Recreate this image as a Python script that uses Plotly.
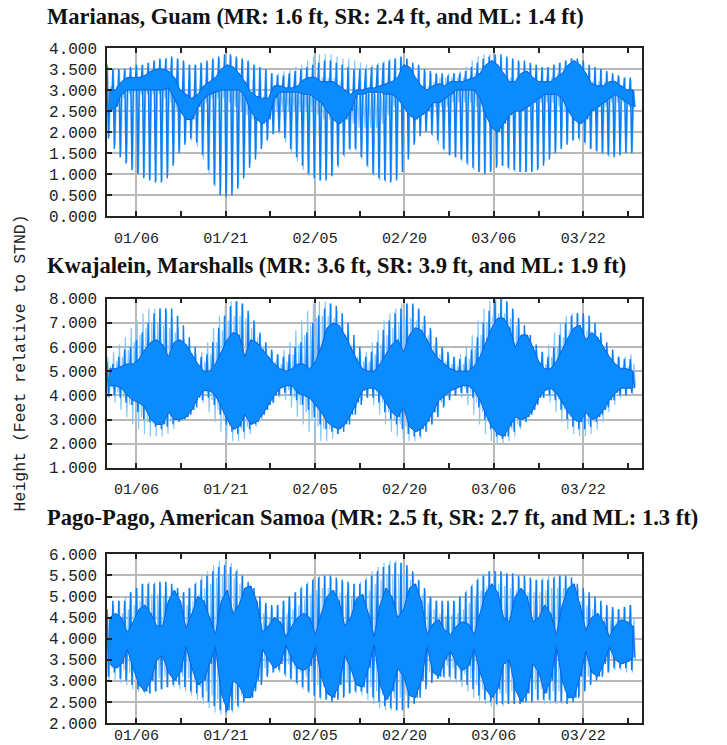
import plotly.graph_objects as go

# ---------------- data (feet, one entry per day from 01/01) ----------------
DAYS = list(range(90))
TICK_DAYS = [5.0, 20.2, 35.4, 50.6, 65.8, 81.0]
TICK_LABELS = ["01/06", "01/21", "02/05", "02/20", "03/06", "03/22"]
MINOR_DAYS = [12.6, 27.8, 43.0, 58.2, 73.4, 88.6]

TITLES = [
    "Marianas, Guam (MR: 1.6 ft, SR: 2.4 ft, and ML: 1.4 ft)",
    "Kwajalein, Marshalls (MR: 3.6 ft, SR: 3.9 ft, and ML: 1.9 ft)",
    "Pago-Pago, American Samoa (MR: 2.5 ft, SR: 2.7 ft, and ML: 1.3 ft)",
]
Y_LABEL = "Height (Feet relative to STND)"

GUAM_Y_TICKS = [0, 0.5, 1, 1.5, 2, 2.5, 3, 3.5, 4]
KWAJ_Y_TICKS = [1, 2, 3, 4, 5, 6, 7, 8]
PAGO_Y_TICKS = [2, 2.5, 3, 3.5, 4, 4.5, 5, 5.5, 6]

# Guam - dark series: higher high, lower low, lower high, higher low
GUAM_D_HH = [3.6,3.5,3.5,3.5,3.55,3.6,3.6,3.65,3.7,3.75,
             3.75,3.8,3.75,3.7,3.6,3.6,3.65,3.7,3.75,3.8,
             3.85,3.85,3.8,3.75,3.7,3.6,3.55,3.5,3.4,3.35,
             3.35,3.4,3.45,3.5,3.55,3.6,3.65,3.7,3.7,3.65,
             3.6,3.55,3.5,3.5,3.5,3.55,3.6,3.65,3.7,3.75,
             3.8,3.75,3.65,3.6,3.5,3.45,3.4,3.4,3.35,3.4,
             3.4,3.45,3.55,3.65,3.75,3.8,3.85,3.85,3.8,3.75,
             3.7,3.7,3.65,3.6,3.55,3.55,3.6,3.65,3.7,3.75,
             3.75,3.7,3.6,3.55,3.5,3.45,3.4,3.35,3.3,3.3]
GUAM_D_LL = [1.85,1.6,1.4,1.25,1.1,1.0,0.9,0.85,0.8,0.8,
             0.9,1.2,1.5,1.7,1.85,1.75,1.45,1.1,0.75,0.5,
             0.45,0.5,0.65,0.9,1.15,1.35,1.6,1.8,1.95,2.0,
             1.85,1.6,1.4,1.2,1.0,0.9,0.85,0.85,0.95,1.2,
             1.45,1.6,1.6,1.4,1.2,1.0,0.9,0.85,0.8,0.85,
             1.05,1.35,1.7,1.9,2.0,1.95,1.8,1.6,1.45,1.4,
             1.35,1.25,1.15,1.05,1.0,1.05,1.15,1.2,1.15,1.1,
             1.05,1.05,1.05,1.1,1.2,1.35,1.5,1.6,1.7,1.8,
             1.85,1.75,1.6,1.55,1.5,1.45,1.4,1.45,1.5,1.5]
GUAM_D_LH = [3.0,3.0,3.2,3.3,3.3,3.3,3.35,3.45,3.5,3.5,
             3.45,3.3,3.0,2.9,2.8,2.9,3.1,3.2,3.3,3.5,
             3.6,3.55,3.4,3.2,2.95,2.85,2.8,2.8,3.1,3.1,
             3.05,3.05,3.1,3.25,3.3,3.3,3.2,3.2,3.2,3.1,
             3.0,2.9,3.0,3.0,3.05,3.05,3.1,3.15,3.2,3.3,
             3.6,3.55,3.3,3.1,3.0,3.1,3.15,3.1,3.2,3.2,
             3.2,3.25,3.3,3.4,3.6,3.7,3.6,3.4,3.2,3.2,
             3.4,3.45,3.3,3.2,3.2,3.2,3.3,3.4,3.6,3.7,
             3.6,3.4,3.15,3.1,3.1,3.2,3.2,3.1,3.0,3.0]
GUAM_D_HL = [2.5,2.6,2.9,3.0,3.0,3.0,3.0,3.0,3.0,3.0,
             3.05,2.8,2.5,2.3,2.3,2.6,2.8,2.9,2.95,3.0,
             3.0,3.0,3.0,2.85,2.5,2.3,2.2,2.3,2.8,2.95,
             2.95,2.95,2.95,2.9,2.9,2.8,2.7,2.5,2.3,2.2,
             2.3,2.5,2.9,2.9,2.95,2.95,2.95,2.9,2.9,2.8,
             2.6,2.4,2.3,2.4,2.5,2.7,2.7,2.8,2.9,3.0,
             3.0,3.0,3.0,2.8,2.4,2.1,2.0,2.2,2.4,2.5,
             2.5,2.6,2.7,2.8,2.9,2.9,2.9,2.8,2.5,2.3,
             2.2,2.3,2.5,2.6,2.7,2.8,2.9,2.8,2.7,2.6]
# Guam - light series
GUAM_L_HH = [3.55,3.5,3.45,3.5,3.5,3.55,3.6,3.65,3.7,3.7,
             3.75,3.75,3.7,3.65,3.6,3.6,3.6,3.65,3.7,3.75,
             3.8,3.8,3.75,3.7,3.65,3.6,3.5,3.45,3.4,3.4,
             3.45,3.5,3.55,3.6,3.7,3.8,3.85,3.85,3.85,3.8,
             3.75,3.75,3.7,3.65,3.6,3.6,3.65,3.7,3.75,3.75,
             3.75,3.7,3.6,3.55,3.45,3.4,3.35,3.35,3.4,3.4,
             3.45,3.55,3.7,3.8,3.85,3.85,3.8,3.8,3.75,3.7,
             3.65,3.6,3.6,3.55,3.5,3.55,3.6,3.65,3.7,3.75,
             3.7,3.65,3.55,3.5,3.45,3.4,3.35,3.3,3.3,3.25]
GUAM_L_LL = [1.9,1.7,1.5,1.3,1.15,1.0,0.95,0.9,0.85,0.85,
             0.95,1.25,1.55,1.75,1.8,1.65,1.35,1.0,0.7,0.6,
             0.55,0.6,0.75,1.0,1.25,1.45,1.7,1.85,1.95,1.95,
             1.75,1.5,1.3,1.1,0.95,0.85,0.85,0.9,1.0,1.15,
             1.4,1.55,1.55,1.35,1.15,0.95,0.85,0.8,0.85,0.95,
             1.15,1.45,1.75,1.95,2.0,1.9,1.7,1.55,1.45,1.4,
             1.3,1.2,1.1,1.05,1.05,1.1,1.2,1.2,1.1,1.05,
             1.05,1.05,1.1,1.15,1.3,1.45,1.55,1.65,1.75,1.8,
             1.8,1.7,1.6,1.5,1.45,1.4,1.45,1.5,1.5,1.5]
GUAM_L_LH = [3.1,3.1,3.1,3.2,3.2,3.2,3.3,3.4,3.4,3.4,
             3.3,3.1,2.95,2.9,2.85,2.9,3.0,3.1,3.3,3.4,
             3.4,3.3,3.2,3.0,2.9,2.85,2.85,2.9,3.0,3.0,
             3.0,3.0,3.0,3.0,3.1,3.2,3.3,3.3,3.3,3.2,
             3.0,2.9,2.9,2.9,2.9,2.9,2.9,3.0,3.1,3.3,
             3.4,3.3,3.2,3.1,3.1,3.2,3.3,3.3,3.3,3.3,
             3.3,3.3,3.4,3.5,3.5,3.4,3.3,3.3,3.3,3.3,
             3.3,3.2,3.2,3.2,3.2,3.3,3.4,3.5,3.5,3.4,
             3.3,3.2,3.2,3.2,3.2,3.2,3.1,3.1,3.0,3.0]
GUAM_L_HL = [2.6,2.7,2.8,2.9,2.9,2.9,2.9,2.9,2.9,2.8,
             2.7,2.5,2.4,2.4,2.5,2.6,2.7,2.8,2.8,2.8,
             2.7,2.6,2.5,2.4,2.3,2.3,2.3,2.4,2.5,2.5,
             2.5,2.5,2.5,2.5,2.5,2.4,2.3,2.3,2.3,2.3,
             2.3,2.2,2.1,2.1,2.1,2.1,2.2,2.4,2.6,2.7,
             2.6,2.5,2.4,2.4,2.5,2.6,2.6,2.6,2.7,2.7,
             2.7,2.7,2.6,2.5,2.3,2.2,2.2,2.3,2.4,2.5,
             2.6,2.6,2.7,2.7,2.7,2.7,2.6,2.5,2.4,2.3,
             2.3,2.4,2.5,2.6,2.6,2.7,2.7,2.7,2.6,2.6]

# Kwajalein - dark series
KWAJ_D_HH = [5.4,5.3,5.6,5.9,6.0,6.3,6.6,7.0,7.4,7.6,
             7.6,7.6,7.3,6.9,6.4,6.0,5.6,5.7,6.2,6.8,
             7.3,7.7,7.9,7.8,7.5,7.1,6.6,6.2,5.9,5.7,
             5.6,5.7,6.0,6.2,6.6,7.0,7.3,7.6,7.8,7.7,
             7.4,7.0,6.5,6.0,5.6,5.8,6.2,6.7,7.1,7.4,
             7.6,7.8,7.8,7.6,7.3,6.8,6.4,6.0,5.8,5.6,
             5.5,5.6,5.9,6.4,7.0,7.5,7.9,8.0,7.9,7.6,
             7.2,6.9,6.5,6.1,5.8,5.6,6.0,6.5,7.0,7.3,
             7.4,7.4,7.3,7.0,6.6,6.2,5.9,5.6,5.5,5.5]
KWAJ_D_LL = [3.95,4.0,3.9,3.7,3.6,3.3,3.0,2.9,2.7,2.6,
             2.7,2.8,2.9,3.0,3.2,3.5,3.8,3.9,3.6,3.2,
             2.8,2.5,2.4,2.5,2.6,2.8,3.1,3.4,3.7,4.0,
             4.1,4.0,3.8,3.6,3.4,3.1,2.8,2.6,2.5,2.4,
             2.5,2.8,3.2,3.6,3.9,3.9,3.7,3.3,3.0,2.8,
             2.6,2.4,2.3,2.3,2.5,2.8,3.1,3.5,3.8,4.0,
             4.1,4.1,3.9,3.5,3.0,2.6,2.3,2.2,2.3,2.5,
             2.7,2.9,3.2,3.6,3.9,4.0,3.8,3.4,3.0,2.7,
             2.6,2.6,2.7,2.9,3.2,3.5,3.8,4.0,4.0,4.1]
KWAJ_D_LH = [5.1,5.1,5.2,5.3,5.3,5.5,5.9,6.2,6.3,6.1,
             5.6,6.2,6.3,6.1,5.7,5.3,5.0,5.0,5.3,5.8,
             6.3,6.6,6.5,5.6,6.3,6.2,5.9,5.6,5.3,5.1,
             5.0,5.1,5.3,5.3,5.1,5.4,6.0,6.8,7.0,6.9,
             6.5,6.0,5.5,5.1,5.0,5.0,5.3,5.7,6.1,6.3,
             5.8,6.5,6.8,6.7,6.3,5.8,5.5,5.3,5.1,5.0,
             5.0,5.0,5.2,5.6,6.2,6.8,7.2,7.2,6.8,6.0,
             6.5,6.5,6.0,5.4,5.1,5.1,5.4,5.9,6.4,6.8,
             6.9,6.3,6.6,6.4,6.0,5.6,5.3,5.1,5.1,5.0]
KWAJ_D_HL = [4.4,4.4,4.3,4.0,3.8,3.7,3.5,3.0,2.8,2.8,
             3.3,3.0,3.0,3.1,3.4,3.9,4.2,4.2,4.0,3.5,
             3.0,2.6,2.7,3.2,2.8,2.9,3.2,3.6,4.0,4.3,
             4.4,4.4,4.1,4.0,3.9,3.6,3.3,2.9,2.7,2.6,
             2.8,3.2,3.7,4.2,4.3,4.3,4.1,3.7,3.3,3.1,
             3.5,2.7,2.5,2.6,2.9,3.3,3.8,4.0,4.2,4.3,
             4.4,4.4,4.2,3.8,3.2,2.7,2.4,2.3,2.7,3.1,
             3.0,3.1,3.4,3.9,4.2,4.3,4.1,3.7,3.3,3.0,
             2.9,3.3,3.0,3.1,3.4,3.8,4.1,4.3,4.3,4.3]
# Kwajalein - light series
KWAJ_L_HH = [5.6,5.8,6.1,6.4,6.8,7.1,7.4,7.6,7.6,7.6,
             7.5,7.2,6.8,6.3,5.9,5.7,5.8,6.2,6.8,7.3,
             7.7,7.9,7.9,7.8,7.4,7.0,6.5,6.1,5.8,5.7,
             5.9,6.2,6.7,7.1,7.5,7.8,7.9,7.9,7.8,7.5,
             7.1,6.6,6.1,5.8,5.8,6.2,6.7,7.1,7.4,7.6,
             7.8,7.8,7.7,7.5,7.1,6.7,6.2,5.9,5.7,5.6,
             5.7,6.0,6.5,7.1,7.6,7.9,8.0,8.0,7.8,7.5,
             7.1,6.6,6.2,5.9,5.8,6.1,6.6,7.0,7.3,7.4,
             7.4,7.3,7.1,6.8,6.4,6.0,5.7,5.6,5.6,5.7]
KWAJ_L_LL = [3.9,3.7,3.4,3.1,2.8,2.6,2.4,2.3,2.3,2.3,
             2.4,2.6,2.9,3.3,3.6,3.8,3.7,3.3,2.9,2.5,
             2.2,2.1,2.1,2.2,2.4,2.7,3.0,3.4,3.7,3.9,
             3.8,3.5,3.1,2.8,2.5,2.2,2.1,2.1,2.2,2.4,
             2.7,3.1,3.5,3.8,3.9,3.6,3.2,2.8,2.5,2.3,
             2.2,2.1,2.1,2.2,2.5,2.8,3.2,3.6,3.9,4.0,
             3.9,3.6,3.2,2.8,2.4,2.1,2.0,2.0,2.1,2.3,
             2.6,2.9,3.3,3.7,3.9,3.7,3.3,2.9,2.6,2.4,
             2.3,2.3,2.4,2.6,2.9,3.3,3.6,3.9,4.0,4.0]
KWAJ_L_LH = [5.2,5.4,5.6,5.9,6.2,6.5,6.8,7.0,7.0,6.9,
             6.8,6.6,6.2,5.8,5.5,5.3,5.4,5.7,6.2,6.7,
             7.1,7.3,7.3,7.2,6.8,6.4,6.0,5.6,5.4,5.3,
             5.4,5.7,6.1,6.5,6.9,7.2,7.3,7.3,7.2,6.9,
             6.5,6.1,5.6,5.4,5.4,5.7,6.1,6.5,6.8,7.0,
             7.2,7.2,7.1,6.9,6.5,6.1,5.7,5.4,5.3,5.2,
             5.3,5.5,6.0,6.5,7.0,7.3,7.4,7.4,7.2,6.9,
             6.5,6.1,5.7,5.4,5.3,5.6,6.0,6.4,6.7,6.8,
             6.8,6.7,6.5,6.2,5.9,5.5,5.3,5.2,5.2,5.3]
KWAJ_L_HL = [4.3,4.1,3.9,3.6,3.3,3.1,2.9,2.8,2.8,2.8,
             2.9,3.1,3.4,3.8,4.0,4.2,4.1,3.8,3.4,3.0,
             2.7,2.6,2.6,2.7,2.9,3.2,3.5,3.9,4.1,4.3,
             4.2,3.9,3.6,3.3,3.0,2.7,2.6,2.6,2.7,2.9,
             3.2,3.6,4.0,4.2,4.3,4.1,3.7,3.3,3.0,2.8,
             2.7,2.6,2.6,2.7,3.0,3.3,3.7,4.1,4.3,4.4,
             4.3,4.1,3.7,3.3,2.9,2.6,2.5,2.5,2.6,2.8,
             3.1,3.4,3.8,4.1,4.3,4.1,3.8,3.4,3.1,2.9,
             2.8,2.8,2.9,3.1,3.4,3.8,4.1,4.3,4.4,4.4]

# Pago-Pago - dark series
PAGO_D_HH = [4.7,4.9,4.9,4.9,5.1,5.2,5.3,5.3,5.3,5.35,
             5.35,5.3,5.2,5.1,5.2,5.3,5.4,5.5,5.6,5.7,
             5.75,5.7,5.6,5.5,5.35,5.2,5.0,4.85,4.8,4.8,
             4.9,5.0,5.1,5.2,5.3,5.4,5.45,5.5,5.5,5.45,
             5.4,5.35,5.3,5.3,5.4,5.5,5.6,5.7,5.75,5.8,
             5.8,5.75,5.6,5.4,5.2,5.0,4.9,4.9,4.9,4.9,
             5.0,5.1,5.25,5.4,5.5,5.6,5.6,5.6,5.55,5.55,
             5.5,5.5,5.45,5.4,5.4,5.4,5.45,5.5,5.5,5.45,
             5.3,5.2,5.1,5.0,4.9,4.8,4.75,4.7,4.75,4.8]
PAGO_D_LL = [3.1,3.2,3.05,3.0,2.9,2.8,2.75,2.7,2.75,2.8,
             2.85,2.9,2.9,2.85,2.75,2.7,2.6,2.5,2.4,2.3,
             2.25,2.3,2.4,2.5,2.6,2.75,2.9,3.1,3.2,3.25,
             3.15,3.05,2.95,2.85,2.75,2.65,2.6,2.55,2.5,2.55,
             2.6,2.7,2.75,2.75,2.7,2.6,2.5,2.4,2.35,2.3,
             2.3,2.35,2.45,2.6,2.8,2.95,3.05,3.1,3.1,3.05,
             3.0,2.9,2.8,2.65,2.55,2.5,2.45,2.45,2.45,2.45,
             2.45,2.5,2.5,2.55,2.55,2.55,2.5,2.5,2.45,2.5,
             2.6,2.75,2.9,3.0,3.1,3.2,3.3,3.3,3.3,3.25]
PAGO_D_LH = [4.5,4.6,4.5,4.15,4.4,4.7,4.8,4.6,4.3,4.3,
             4.9,5.15,4.9,4.25,4.6,5.0,4.9,4.5,4.1,4.9,
             5.15,4.6,4.8,5.2,5.25,4.9,4.15,4.3,4.5,4.4,
             4.05,4.3,4.5,4.6,4.5,4.1,4.6,5.0,5.15,4.9,
             4.3,4.5,4.95,5.05,4.6,4.05,4.8,5.2,5.0,4.5,
             4.7,5.2,5.3,4.9,4.1,4.35,4.45,4.2,4.1,4.3,
             4.4,4.35,4.1,4.6,5.1,5.3,5.1,4.5,4.4,5.0,
             5.2,5.0,4.4,4.5,4.8,4.6,4.1,4.8,5.2,5.3,
             4.8,4.2,4.5,4.6,4.4,4.05,4.3,4.45,4.4,4.3]
PAGO_D_HL = [3.4,3.3,3.4,3.75,3.3,2.9,2.75,3.0,3.5,3.6,
             3.2,3.0,3.2,3.8,3.3,2.9,3.0,3.4,3.8,2.7,
             2.3,3.0,2.9,2.6,2.6,3.0,3.75,3.5,3.3,3.4,
             3.85,3.5,3.3,3.25,3.35,3.8,3.1,2.7,2.6,2.9,
             3.6,3.3,2.9,2.85,3.3,3.85,2.9,2.55,2.75,3.3,
             3.1,2.65,2.6,3.0,3.8,3.2,3.1,3.5,3.7,3.4,
             3.25,3.35,3.75,3.2,2.8,2.6,2.8,3.4,3.5,2.8,
             2.5,2.7,3.4,3.2,2.7,3.0,3.8,3.0,2.6,2.6,
             3.1,3.7,3.2,3.1,3.4,3.8,3.5,3.4,3.45,3.55]
# Pago-Pago - light series
PAGO_L_HH = [4.6,4.8,4.9,5.0,5.1,5.2,5.3,5.35,5.35,5.3,
             5.25,5.2,5.1,5.1,5.2,5.35,5.5,5.6,5.75,5.85,
             5.85,5.8,5.65,5.5,5.3,5.1,4.9,4.8,4.75,4.8,
             4.9,5.0,5.1,5.25,5.35,5.45,5.5,5.5,5.45,5.4,
             5.35,5.3,5.3,5.35,5.45,5.6,5.7,5.8,5.85,5.85,
             5.8,5.7,5.55,5.35,5.15,5.0,4.9,4.85,4.85,4.9,
             5.0,5.15,5.3,5.45,5.55,5.6,5.6,5.55,5.5,5.45,
             5.45,5.4,5.4,5.4,5.45,5.5,5.5,5.5,5.45,5.35,
             5.2,5.1,5.0,4.9,4.8,4.75,4.7,4.7,4.75,4.8]
PAGO_L_LL = [3.0,3.0,2.95,2.9,2.8,2.75,2.7,2.7,2.75,2.8,
             2.85,2.85,2.8,2.75,2.65,2.55,2.45,2.35,2.25,2.2,
             2.2,2.25,2.35,2.5,2.65,2.8,3.0,3.15,3.2,3.2,
             3.1,3.0,2.9,2.8,2.7,2.6,2.55,2.55,2.55,2.6,
             2.65,2.7,2.7,2.65,2.55,2.45,2.35,2.3,2.3,2.3,
             2.35,2.45,2.6,2.75,2.9,3.0,3.05,3.05,3.0,2.95,
             2.85,2.75,2.6,2.5,2.45,2.4,2.4,2.4,2.45,2.45,
             2.5,2.5,2.5,2.5,2.45,2.45,2.45,2.45,2.5,2.55,
             2.65,2.8,2.95,3.05,3.15,3.2,3.25,3.25,3.2,3.2]
PAGO_L_LH = [4.3,4.5,4.6,4.7,4.8,4.9,5.0,5.05,5.05,5.0,
             4.95,4.9,4.8,4.8,4.9,5.05,5.2,5.3,5.45,5.5,
             5.5,5.45,5.3,5.2,5.0,4.8,4.6,4.5,4.45,4.5,
             4.6,4.7,4.8,4.95,5.05,5.15,5.2,5.2,5.15,5.1,
             5.05,5.0,5.0,5.05,5.15,5.3,5.4,5.5,5.5,5.5,
             5.45,5.4,5.25,5.05,4.85,4.7,4.6,4.55,4.55,4.6,
             4.7,4.85,5.0,5.15,5.25,5.3,5.3,5.25,5.2,5.15,
             5.15,5.1,5.1,5.1,5.15,5.2,5.2,5.2,5.15,5.05,
             4.9,4.8,4.7,4.6,4.5,4.45,4.4,4.4,4.45,4.5]
PAGO_L_HL = [3.3,3.3,3.25,3.2,3.1,3.05,3.0,3.0,3.05,3.1,
             3.15,3.15,3.1,3.05,2.95,2.85,2.75,2.65,2.55,2.5,
             2.5,2.55,2.65,2.8,2.95,3.1,3.3,3.45,3.5,3.5,
             3.4,3.3,3.2,3.1,3.0,2.9,2.85,2.85,2.85,2.9,
             2.95,3.0,3.0,2.95,2.85,2.75,2.65,2.6,2.6,2.6,
             2.65,2.75,2.9,3.05,3.2,3.3,3.35,3.35,3.3,3.25,
             3.15,3.05,2.9,2.8,2.75,2.7,2.7,2.7,2.75,2.75,
             2.8,2.8,2.8,2.8,2.75,2.75,2.75,2.75,2.8,2.85,
             2.95,3.1,3.25,3.35,3.45,3.5,3.55,3.55,3.5,3.5]

# ---------------- styling ----------------
DARK = "#0a7ff5"
DARK_FILL = "#0a8cff"
DARK_EDGE = "#0a62dc"
LIGHT = "#86c6ff"
GRID = "#b9b9b9"
MONO = "Liberation Mono, Courier New, monospace"
SERIF = "Liberation Serif, Times New Roman, serif"

# page geometry (the body margin is removed after drawing, so page = figure)
OFF = 0
W, H = 727 - OFF, 745 - OFF
PLOT_L, PLOT_R, PLOT_T, PLOT_B = 107, 642, 47.5, 722.7   # page pixels
L = PLOT_L - OFF
R = W - (PLOT_R - OFF)
T = PLOT_T - OFF
B = H - (PLOT_B - OFF)
PH = H - T - B
PW = W - L - R


def py(y):  # page pixel row -> paper fraction
    return (PLOT_B - y) / PH


def px(x):  # page pixel column -> paper fraction
    return (x - PLOT_L) / PW


def zigzag(hh, ll, lh, hl, offset):
    xs, ys = [], []
    for d in DAYS:
        for k, v in enumerate((hh[d], ll[d], lh[d], hl[d])):
            xs.append(d + offset + 0.25 * k)
            ys.append(v)
    return xs, ys


def band(lh, hl):
    xs = [d + 0.45 for d in DAYS] + [d + 0.45 for d in reversed(DAYS)]
    ys = [lh[d] for d in DAYS] + [hl[d] for d in reversed(DAYS)]
    return xs, ys


stations = [
    dict(dark=(GUAM_D_HH, GUAM_D_LL, GUAM_D_LH, GUAM_D_HL),
         light=(GUAM_L_HH, GUAM_L_LL, GUAM_L_LH, GUAM_L_HL),
         yt=GUAM_Y_TICKS, dom=(py(215.7), py(47.5)), stand=7),
    dict(dark=(KWAJ_D_HH, KWAJ_D_LL, KWAJ_D_LH, KWAJ_D_HL),
         light=(KWAJ_L_HH, KWAJ_L_LL, KWAJ_L_LH, KWAJ_L_HL),
         yt=KWAJ_Y_TICKS, dom=(py(467.5), py(298.3)), stand=6),
    dict(dark=(PAGO_D_HH, PAGO_D_LL, PAGO_D_LH, PAGO_D_HL),
         light=(PAGO_L_HH, PAGO_L_LL, PAGO_L_LH, PAGO_L_HL),
         yt=PAGO_Y_TICKS, dom=(py(722.7), py(554.0)), stand=-3),
]

fig = go.Figure()
layout = dict(
    width=W, height=H,
    margin=dict(l=L, r=R, t=T, b=B, pad=0, autoexpand=False),
    paper_bgcolor="white", plot_bgcolor="white",
    showlegend=False, hovermode=False,
)

for i, st in enumerate(stations, start=1):
    sfx = "" if i == 1 else str(i)
    xa, ya = "x" + sfx, "y" + sfx
    lx, ly = zigzag(*st["light"], 0.125)
    dx, dy = zigzag(*st["dark"], 0.0)
    bx, by = band(st["dark"][2], st["dark"][3])
    fig.add_trace(go.Scatter(x=lx, y=ly, mode="lines", xaxis=xa, yaxis=ya,
                             line=dict(color=LIGHT, width=1.2, simplify=False),
                             hoverinfo="skip"))
    fig.add_trace(go.Scatter(x=dx, y=dy, mode="lines", xaxis=xa, yaxis=ya,
                             line=dict(color=DARK, width=1.5, simplify=False),
                             hoverinfo="skip"))
    fig.add_trace(go.Scatter(x=bx, y=by, mode="lines", xaxis=xa, yaxis=ya,
                             fill="toself", fillcolor=DARK_FILL,
                             line=dict(color=DARK_EDGE, width=1, simplify=False),
                             hoverinfo="skip"))
    layout["xaxis" + sfx] = dict(
        domain=[0, 1], anchor=ya, range=[0, 91], automargin=False,
        tickmode="array", tickvals=TICK_DAYS, ticktext=TICK_LABELS,
        ticks="inside", ticklen=5, tickwidth=1.5, tickcolor="#222",
        ticklabelstandoff=st["stand"],
        showline=True, linecolor="#222", linewidth=1.5, mirror="ticks",
        showgrid=True, gridcolor=GRID, gridwidth=2, zeroline=False,
        tickfont=dict(family=MONO, size=15, color="#222"),
        minor=dict(tickmode="array", tickvals=MINOR_DAYS, ticks="inside",
                   ticklen=5, tickwidth=1.5, tickcolor="#222", showgrid=False),
        fixedrange=True,
    )
    yt = st["yt"]
    layout["yaxis" + sfx] = dict(
        domain=list(st["dom"]), anchor=xa, range=[yt[0], yt[-1]], automargin=False,
        tickmode="array", tickvals=yt, tickformat=".3f",
        ticks="inside", ticklen=5, tickwidth=1.5, tickcolor="#222",
        ticklabelstandoff=5,
        showline=True, linecolor="#222", linewidth=1.5, mirror=True,
        showgrid=True, gridcolor=GRID, gridwidth=2, zeroline=False,
        tickfont=dict(family=MONO, size=16, color="#222"),
        fixedrange=True,
    )

annotations = []
for title, ytop in zip(TITLES, [1, 251, 503]):
    annotations.append(dict(
        text="<b>" + title + "</b>", xref="paper", yref="paper",
        x=px(45), y=py(ytop), xanchor="left", yanchor="top",
        showarrow=False, font=dict(family=SERIF, size=22.5, color="#111")))
annotations.append(dict(
    text=Y_LABEL, xref="paper", yref="paper", x=px(20), y=py(363),
    xanchor="center", yanchor="middle", textangle=-90, showarrow=False,
    font=dict(family=MONO, size=16.5, color="#222")))
layout["annotations"] = annotations

fig.update_layout(**layout)
fig.write_html("out.html", config={"displayModeBar": False},
               post_script="document.body.style.margin='0px';")
